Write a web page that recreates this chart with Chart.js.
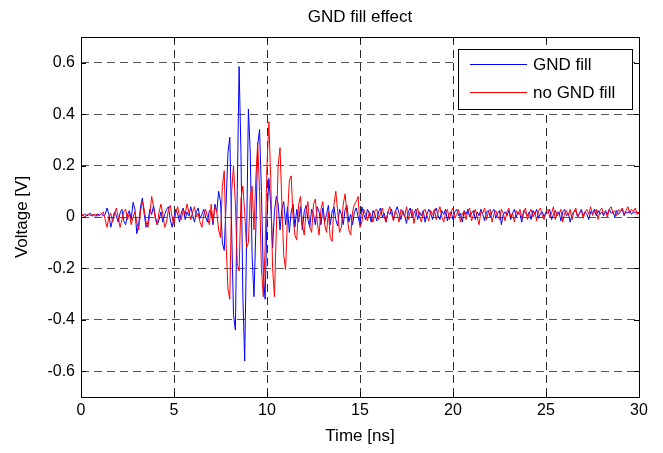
<!DOCTYPE html>
<html>
<head>
<meta charset="utf-8">
<script src="https://cdn.jsdelivr.net/npm/chart.js@4.4.1/dist/chart.umd.min.js"></script>
<style>
  html, body { margin: 0; padding: 0; background: #fff; }
  canvas { display: block; }
</style>
</head>
<body>
<canvas id="chart" width="663" height="453"></canvas>
<script>
// sampling step of the scope traces, ns
const dt = 0.1;

// GND fill (blue), one value per 0.1 ns, 0..30 ns
const gndFill = [
  0.01, 0.005, 0.012, 0.004, 0.008, 0.015, 0.003, 0.01, 0.002, 0.012,
  0.006, 0.014, 0.004, 0.01, 0.035, 0.01, -0.04, -0.01, 0.02, 0.005,
  -0.02, 0.015, 0.03, -0.015, -0.03, 0.01, 0.025, -0.01, 0.057, 0.03,
  -0.065, -0.03, 0.04, 0.074, 0.01, -0.04, -0.02, 0.03, 0.01, 0.044,
  0.0, -0.03, -0.01, 0.02, -0.02, 0.01, 0.03, 0.04, -0.01, -0.04,
  0.0, 0.03, 0.01, -0.02, 0.02, 0.035, -0.01, 0.02, 0.005, 0.04,
  0.01, -0.02, 0.02, 0.035, -0.005, 0.01, 0.03, 0.0, -0.02, 0.025,
  0.02, -0.03, 0.05, 0.02, 0.10, 0.06, -0.10, -0.13, 0.05, 0.25,
  0.31, -0.05, -0.38, -0.44, 0.10, 0.585, 0.25, -0.30, -0.56, -0.10,
  0.42, 0.25, -0.15, -0.31, -0.05, 0.28, 0.34, 0.10, -0.22, -0.32,
  0.0, 0.15, 0.05, -0.12, 0.02, 0.08, 0.05, -0.05, 0.03, 0.06,
  -0.03, 0.04, -0.06, 0.02, 0.05, -0.04, 0.03, -0.02, 0.04, -0.05,
  0.02, 0.045, -0.01, -0.04, 0.03, 0.01, -0.03, 0.04, 0.02, -0.03,
  0.035, -0.02, 0.01, 0.045, -0.03, 0.02, 0.04, -0.01, -0.035, 0.03,
  0.01, -0.03, 0.03, 0.045, -0.02, 0.01, -0.03, 0.02, 0.035, 0.0,
  -0.03, 0.04, 0.01, -0.01, 0.03, 0.015, -0.02, 0.025, 0.01, -0.015,
  0.02, 0.035, 0.0, 0.015, -0.02, 0.02, 0.01, 0.03, -0.01, 0.02,
  0.04, 0.015, -0.01, 0.025, 0.005, -0.025, 0.02, 0.035, 0.0, 0.015,
  0.03, -0.01, 0.02, 0.005, 0.025, -0.02, 0.01, 0.03, 0.015, -0.01,
  0.02, 0.035, 0.005, -0.01, 0.025, 0.01, 0.03, -0.015, 0.015, 0.02,
  -0.01, 0.02, 0.03, 0.005, 0.015, -0.02, 0.025, 0.01, 0.03, 0.0,
  0.015, 0.025, -0.01, 0.02, 0.005, 0.03, 0.01, -0.015, 0.02, 0.025,
  0.0, 0.02, 0.03, -0.005, 0.015, 0.025, -0.03, 0.01, 0.02, 0.005,
  0.025, -0.01, 0.015, 0.03, 0.0, 0.02, 0.01, -0.02, 0.025, 0.015,
  0.005, 0.02, -0.01, 0.025, 0.01, 0.03, -0.005, 0.015, 0.02, 0.0,
  0.02, 0.015, 0.03, -0.01, 0.01, 0.025, 0.005, 0.02, -0.015, 0.02,
  0.03, 0.005, 0.015, -0.02, 0.01, 0.02, 0.025, 0.0, 0.015, 0.03,
  0.005, 0.02, 0.01, -0.01, 0.02, 0.015, 0.03, 0.005, 0.025, 0.01,
  0.02, 0.005, 0.025, 0.01, 0.03, 0.015, 0.02, 0.0, 0.025, 0.01,
  0.02, 0.03, 0.005, 0.02, 0.015, 0.025, 0.01, 0.02, 0.015, 0.02,
  0.01
];

// no GND fill (red), same sampling
const noGndFill = [
  0.005, 0.01, 0.0, 0.008, 0.012, 0.004, 0.01, 0.006, 0.012, 0.003,
  0.008, 0.012, 0.02, -0.01, -0.04, 0.0, 0.015, -0.02, 0.01, 0.035,
  0.0, -0.04, -0.01, 0.02, 0.03, -0.01, 0.015, -0.03, 0.0, 0.02,
  -0.02, -0.05, 0.02, 0.06, 0.03, -0.02, -0.04, 0.01, 0.08, 0.04,
  -0.01, -0.03, 0.02, 0.05, 0.01, -0.04, -0.02, 0.03, 0.045, 0.0,
  -0.03, 0.02, 0.04, 0.0, -0.01, 0.03, 0.01, 0.05, 0.02, -0.01,
  0.02, 0.04, 0.0, 0.015, -0.02, -0.04, 0.01, 0.03, 0.0, -0.03,
  0.05, -0.02, 0.04, 0.02, -0.05, -0.08, 0.12, 0.18, -0.10, -0.28,
  -0.32, 0.10, 0.20, 0.05, -0.18, -0.21, 0.07, 0.12, 0.02, -0.12,
  -0.10, 0.08, 0.12, -0.05, 0.15, 0.29, 0.10, -0.20, -0.31, -0.12,
  0.20, 0.37, 0.15, -0.20, -0.31, -0.05, 0.20, 0.27, 0.05, -0.15,
  -0.205, 0.0, 0.14, 0.16, 0.0, -0.07, -0.09, 0.05, 0.08, -0.03,
  -0.07, 0.02, 0.06, -0.04, -0.06, 0.05, 0.07, -0.02, -0.07, 0.03,
  0.06, -0.03, -0.06, 0.02, -0.08, -0.095, 0.05, 0.10, 0.02, -0.06,
  -0.04, 0.05, 0.09, 0.01, -0.05, -0.07, 0.02, 0.05, 0.06, 0.08,
  -0.04, -0.02, 0.03, 0.01, -0.015, 0.02, 0.005, -0.02, 0.025, 0.03,
  -0.01, 0.015, 0.035, 0.0, -0.02, 0.02, 0.04, 0.01, -0.015, 0.025,
  0.01, -0.02, 0.03, 0.015, 0.0, 0.04, -0.01, 0.02, 0.03, -0.025,
  0.015, 0.035, 0.0, -0.02, 0.02, 0.03, 0.005, -0.015, 0.025, 0.01,
  0.03, -0.01, 0.02, 0.04, 0.0, -0.02, 0.015, 0.03, -0.01, 0.02,
  0.035, -0.005, 0.01, 0.03, -0.02, 0.015, 0.02, -0.01, 0.025, 0.035,
  -0.015, 0.01, 0.03, 0.0, -0.03, 0.02, 0.015, 0.035, -0.01, 0.02,
  0.03, -0.02, 0.01, 0.025, 0.005, -0.01, 0.03, 0.015, -0.015, 0.02,
  0.035, 0.0, 0.015, -0.02, 0.025, 0.01, 0.03, -0.005, 0.02, 0.035,
  -0.01, 0.015, 0.03, 0.0, 0.02, -0.015, 0.025, 0.035, 0.005, -0.01,
  0.02, 0.03, 0.0, 0.015, 0.04, -0.01, 0.02, 0.01, 0.03, -0.02,
  0.015, 0.025, 0.005, 0.03, -0.01, 0.02, 0.035, 0.0, 0.015, 0.025,
  -0.005, 0.02, 0.03, 0.01, 0.04, 0.005, 0.02, 0.03, -0.01, 0.025,
  0.035, 0.01, 0.02, 0.0, 0.03, 0.04, 0.015, 0.025, 0.005, 0.03,
  0.02, 0.035, 0.01, 0.025, 0.04, 0.015, 0.03, 0.02, 0.035, 0.01,
  0.02
];

const xTicks = [0, 5, 10, 15, 20, 25, 30];
const yTicks = [-0.6, -0.4, -0.2, 0, 0.2, 0.4, 0.6];
const seriesNames = ['GND fill', 'no GND fill'];
const seriesColors = ['#0000ff', '#ff0000'];

Chart.defaults.font.family = '"Liberation Sans", Arial, sans-serif';
Chart.defaults.color = '#000';

function toPoints(values) {
  return values.map((v, i) => ({ x: +(i * dt).toFixed(1), y: v }));
}

// matlab-ish box, inward tick marks and the boxed legend
const matlabFrame = {
  id: 'matlabFrame',
  afterDatasetsDraw(chart) {
    const { ctx, chartArea: a, scales } = chart;
    const x = scales.x, y = scales.y;
    ctx.save();
    ctx.strokeStyle = '#000';
    ctx.lineWidth = 1;
    ctx.beginPath();
    xTicks.forEach(t => {
      const px = Math.round(x.getPixelForValue(t)) + 0.5;
      ctx.moveTo(px, a.bottom); ctx.lineTo(px, a.bottom - 5);
      ctx.moveTo(px, a.top); ctx.lineTo(px, a.top + 5);
    });
    yTicks.forEach(t => {
      const py = Math.round(y.getPixelForValue(t)) + 0.5;
      ctx.moveTo(a.left, py); ctx.lineTo(a.left + 5, py);
      ctx.moveTo(a.right, py); ctx.lineTo(a.right - 5, py);
    });
    ctx.stroke();
    ctx.strokeRect(Math.round(a.left) + 0.5, Math.round(a.top) + 0.5,
      Math.round(a.right - a.left), Math.round(a.bottom - a.top));

    // legend
    const bw = 174, bh = 60;
    const bx = Math.round(a.right) - 7 - bw, by = Math.round(a.top) + 12;
    ctx.fillStyle = '#fff';
    ctx.fillRect(bx, by, bw, bh);
    ctx.strokeRect(bx + 0.5, by + 0.5, bw, bh);
    ctx.font = '17px "Liberation Sans", Arial, sans-serif';
    ctx.textBaseline = 'middle';
    ctx.textAlign = 'left';
    seriesNames.forEach((name, i) => {
      const ly = by + 15 + i * 28 + 0.5;
      ctx.strokeStyle = seriesColors[i];
      ctx.beginPath();
      ctx.moveTo(bx + 12, ly); ctx.lineTo(bx + 69, ly);
      ctx.stroke();
      ctx.fillStyle = '#000';
      ctx.fillText(name, bx + 75, ly + 1);
    });
    ctx.restore();
  }
};

new Chart(document.getElementById('chart'), {
  type: 'line',
  data: {
    datasets: [
      { label: seriesNames[0], data: toPoints(gndFill), borderColor: seriesColors[0],
        borderWidth: 1, pointRadius: 0, tension: 0, order: 1 },
      { label: seriesNames[1], data: toPoints(noGndFill), borderColor: seriesColors[1],
        borderWidth: 1, pointRadius: 0, tension: 0, order: 0 }
    ]
  },
  options: {
    responsive: false,
    animation: false,
    layout: { padding: { left: 0, right: 24, top: 0, bottom: 0 } },
    plugins: {
      legend: { display: false },
      tooltip: { enabled: false },
      title: {
        display: true,
        text: 'GND fill effect',
        fullSize: false,
        color: '#000',
        font: { size: 17, weight: 'normal' },
        padding: { top: 7, bottom: 9.6 }
      }
    },
    scales: {
      x: {
        type: 'linear',
        min: 0, max: 30,
        afterBuildTicks: s => { s.ticks = xTicks.map(v => ({ value: v })); },
        afterFit: s => { s.height = 56; },
        border: { display: false, dash: [8, 5] },
        grid: { color: '#2a2a2a', drawTicks: false, lineWidth: 1 },
        ticks: { padding: 4, maxRotation: 0, font: { size: 16 }, callback: v => String(v) },
        title: { display: true, text: 'Time [ns]', font: { size: 17 }, padding: { top: 0, bottom: 6 } }
      },
      y: {
        type: 'linear',
        min: -0.7, max: 0.7,
        afterBuildTicks: s => { s.ticks = yTicks.map(v => ({ value: v })); },
        afterFit: s => { s.width = 81; },
        border: { display: false, dash: [8, 5] },
        grid: { color: '#555', drawTicks: false, lineWidth: 1 },
        ticks: { padding: 6, font: { size: 16 }, callback: v => String(+v.toFixed(1)) },
        title: { display: true, text: 'Voltage [V]', font: { size: 17 }, padding: { top: 12, bottom: 0 } }
      }
    }
  },
  plugins: [matlabFrame]
});
</script>
</body>
</html>
